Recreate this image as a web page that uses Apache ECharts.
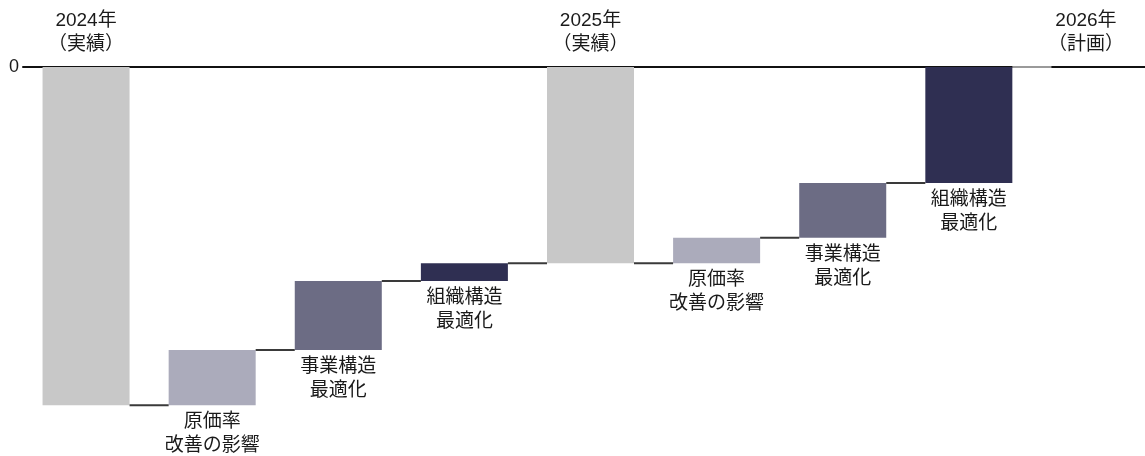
<!DOCTYPE html>
<html>
<head>
<meta charset="utf-8">
<script src="https://cdn.jsdelivr.net/npm/echarts@6/dist/echarts.min.js"></script>
<style>
html,body{margin:0;padding:0;background:#fff;}
#chart{width:1145px;height:456px;}
</style>
</head>
<body>
<div id="chart"></div>
<script>
// ---- data ----
const categories = ['2024年\n（実績）', '原価率\n改善の影響', '事業構造\n最適化', '組織構造\n最適化', '2025年\n（実績）', '原価率\n改善の影響', '事業構造\n最適化', '組織構造\n最適化', '2026年\n（計画）'];
const isTotal = [true, false, false, false, true, false, false, false, true];
const values = [-100, 16.3, 20.4, 5.3, -58, 7.5, 16.2, 34.3, 0];
const barColors = ['#c8c8c8', '#ababbb', '#6c6c84', '#2f2f52', '#c8c8c8', '#ababbb', '#6c6c84', '#2f2f52', '#c8c8c8'];
const yTicks = { min: -110, max: 0, interval: 10 };

// ---- build waterfall ranges ----
const FONT = "'Liberation Sans', 'Noto Sans CJK JP', sans-serif";
let cum = 0;
const barData = [];
const levels = [];
values.forEach((v, i) => {
  let start, end;
  if (isTotal[i]) { start = 0; end = v; cum = v; }
  else { start = cum; end = cum + v; cum = end; }
  barData.push([i, start, end]);
  levels.push(cum);
});
const connData = [];
for (let i = 0; i < values.length - 1; i++) connData.push([i, levels[i]]);

const chart = echarts.init(document.getElementById('chart'));
chart.setOption({
  animation: false,
  backgroundColor: '#fff',
  grid: { left: 23, right: -13, top: 67, bottom: 17, outerBoundsMode: 'none', containLabel: false },
  xAxis: {
    type: 'category',
    position: 'top',
    data: categories,
    axisLine: { show: true, lineStyle: { color: '#111', width: 2 } },
    axisTick: { show: false },
    splitLine: { show: false },
    axisLabel: {
      interval: 0,
      margin: 10,
      fontSize: 19,
      lineHeight: 24,
      color: '#1a1a1a',
      fontFamily: FONT,
      formatter: (v, i) => {
        if (!isTotal[i]) return '';
        if (i === categories.length - 1) return v.split('\n').map(s => '{last|' + s + '}').join('\n');
        return v;
      },
      rich: {
        last: { fontSize: 19, lineHeight: 24, color: '#1a1a1a', fontFamily: FONT, padding: [0, 18, 0, 0] }
      }
    }
  },
  yAxis: {
    type: 'value',
    min: yTicks.min,
    max: yTicks.max,
    interval: yTicks.interval,
    axisLine: { show: false },
    axisTick: { show: false },
    splitLine: { show: false },
    axisLabel: {
      margin: 4,
      fontSize: 18,
      color: '#1a1a1a',
      fontFamily: FONT,
      formatter: v => (v === 0 ? '0' : '')
    }
  },
  series: [
    {
      type: 'custom',
      z: 3,
      data: connData,
      renderItem: (params, api) => {
        const i = api.value(0);
        const lv = api.value(1);
        const w = api.size([1, 0])[0] * 0.69;
        const a = api.coord([i, lv]);
        const b = api.coord([i + 1, lv]);
        return {
          type: 'line',
          shape: { x1: a[0] + w / 2, y1: a[1], x2: b[0] - w / 2, y2: b[1] },
          style: { stroke: i === values.length - 2 ? '#9a9a9a' : '#3a3a3a', lineWidth: 2 }
        };
      }
    },
    {
      type: 'custom',
      z: 2,
      data: barData,
      renderItem: (params, api) => {
        const i = api.value(0);
        const p0 = api.coord([i, api.value(1)]);
        const p1 = api.coord([i, api.value(2)]);
        const w = api.size([1, 0])[0] * 0.69;
        const top = Math.min(p0[1], p1[1]);
        const bot = Math.max(p0[1], p1[1]);
        const children = [];
        if (bot - top > 0) {
          children.push({
            type: 'rect',
            shape: { x: p0[0] - w / 2, y: top, width: w, height: bot - top },
            style: { fill: barColors[i] }
          });
        }
        if (!isTotal[i]) {
          children.push({
            type: 'text',
            x: p0[0],
            y: bot + 5,
            style: {
              text: categories[i],
              fill: '#1a1a1a',
              font: '19px ' + FONT,
              fontSize: 19,
              fontFamily: FONT,
              lineHeight: 24,
              align: 'center',
              verticalAlign: 'top'
            }
          });
        }
        return { type: 'group', children };
      }
    }
  ]
});
</script>
</body>
</html>
